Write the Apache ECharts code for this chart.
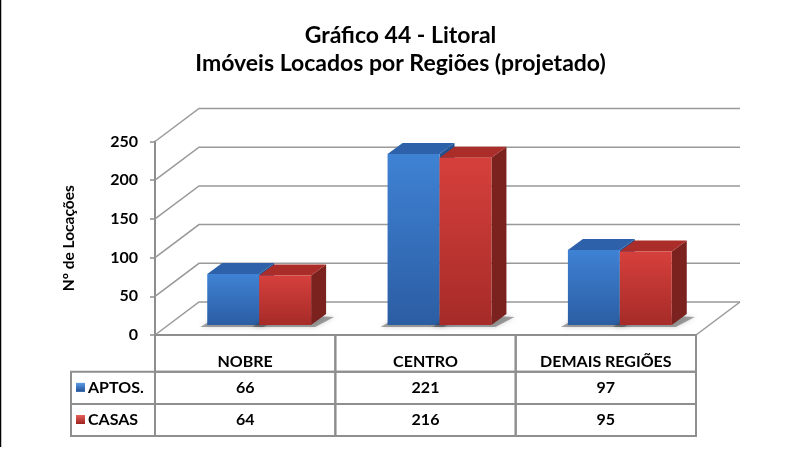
<!DOCTYPE html>
<html><head><meta charset="utf-8">
<script src="https://cdn.jsdelivr.net/npm/echarts@6/dist/echarts.min.js"></script>
<style>html,body{margin:0;padding:0;background:#fff}#c{width:801px;height:449px}</style>
</head><body><div id="c"></div>
<script>
// ---- data ----
const categories = ['NOBRE', 'CENTRO', 'DEMAIS REGIÕES'];
const seriesNames = ['APTOS.', 'CASAS'];
const aptos = [66, 221, 97];
const casas = [64, 216, 95];
const yTicks = [0, 50, 100, 150, 200, 250];
const titleLines = ['Gráfico 44 - Litoral', 'Imóveis Locados por Regiões (projetado)'];
const yName = 'Nº de Locações';

// ---- style constants ----
const FONT = 'Lato, "Open Sans", sans-serif';
const WALL = [44, -33];      // depth of the back wall
const PLANE = [14, -10];     // offset of the bar plane
const DEPTH = [15, -11];     // bar depth
const BARFRAC = 0.288;       // bar width / category width
const ROWS = [36.7, 32.3, 32];
const LEGCOL = 84;
const GRID = '#999999';
const TBL = '#8e8e8e';

const palettes = [
  { front: ['#3f82d4', '#2b5da3'], top: '#2d62ab', side: '#23508f', key: ['#5b9be6', '#1f4f95'] },
  { front: ['#d6403c', '#a62b28'], top: '#ab2d29', side: '#7b221f', key: ['#e8605a', '#9c2320'] }
];

const chart = echarts.init(document.getElementById('c'), null, { renderer: 'canvas' });

function wallItem(params, api) {
  const cs = params.coordSys;
  const v = api.value(1);
  const y = api.coord([0, v])[1];
  const x0 = cs.x, x1 = cs.x + cs.width;
  const style = { stroke: GRID, lineWidth: 1.5, fill: null };
  const children = [{
    type: 'polyline',
    shape: { points: [[x0, y], [x0 + WALL[0], y + WALL[1]], [x1 + WALL[0], y + WALL[1]]] },
    style
  }];
  if (v === 0) {
    children.push({ type: 'line', shape: { x1: x1, y1: y, x2: x1 + WALL[0], y2: y + WALL[1] }, style });
  }
  return { type: 'group', children };
}

function barItem(si) {
  return function (params, api) {
    const i = api.value(0), v = api.value(1);
    const base = api.coord([i, 0]);
    const top = api.coord([i, v]);
    const catW = api.size([1, 0])[0];
    const bw = catW * BARFRAC;
    const cx = base[0] + PLANE[0];
    const xL = si === 0 ? cx - bw : cx;
    const xR = xL + bw;
    const yB = base[1] + PLANE[1];
    const yT = top[1] + PLANE[1];
    const p = palettes[si];
    const dx = DEPTH[0], dy = DEPTH[1];
    return {
      type: 'group',
      children: [
        { type: 'polygon', z2: 0,
          shape: { points: [[xL - 7, yB + 2], [xR + 4, yB + 2], [xR + dx + 8, yB + dy + 3], [xL + dx, yB + dy]] },
          style: { fill: 'rgba(60,60,60,0.45)', shadowBlur: 5, shadowColor: 'rgba(0,0,0,0.4)' } },
        { type: 'polygon', z2: 1,
          shape: { points: [[xR, yT], [xR + dx, yT + dy], [xR + dx, yB + dy], [xR, yB]] },
          style: { fill: p.side } },
        { type: 'polygon', z2: 1,
          shape: { points: [[xL, yT], [xR, yT], [xR + dx, yT + dy], [xL + dx, yT + dy]] },
          style: { fill: p.top } },
        { type: 'rect', z2: 2,
          shape: { x: xL, y: yT, width: bw, height: yB - yT },
          style: { fill: new echarts.graphic.LinearGradient(0, 0, 0, 1, [
            { offset: 0, color: p.front[0] }, { offset: 1, color: p.front[1] }]) } }
      ]
    };
  };
}

function tableItem(params, api) {
  const cs = params.coordSys;
  const i = api.value(0);
  const c = api.coord([i, 0]);
  const catW = api.size([1, 0])[0];
  const xL = c[0] - catW / 2;
  const y0 = c[1];
  const vals = [api.value(1), api.value(2)];
  const ln = { stroke: TBL, lineWidth: 2, fill: null };
  const txt = { fill: '#000', font: 'bold 16px ' + FONT, align: 'center', verticalAlign: 'middle' };
  const children = [];
  let y = y0;
  const rowTops = [];
  for (let r = 0; r < ROWS.length; r++) { rowTops.push(y); y += ROWS[r]; }
  for (let r = 0; r < ROWS.length; r++) {
    children.push({ type: 'rect', shape: { x: xL, y: rowTops[r], width: catW, height: ROWS[r] }, style: ln });
  }
  children.push({ type: 'text', style: Object.assign({ text: categories[i], x: c[0], y: rowTops[0] + ROWS[0] * 0.72 }, txt) });
  for (let r = 0; r < 2; r++) {
    children.push({ type: 'text', style: Object.assign({ text: String(vals[r]), x: c[0], y: rowTops[r + 1] + ROWS[r + 1] / 2 }, txt) });
  }
  if (i === 0) {
    const lx = cs.x - LEGCOL;
    for (let r = 0; r < 2; r++) {
      const ty = rowTops[r + 1];
      children.push({ type: 'rect', shape: { x: lx, y: ty, width: LEGCOL, height: ROWS[r + 1] }, style: ln });
      const k = palettes[r].key;
      children.push({ type: 'rect', shape: { x: lx + 5, y: ty + ROWS[r + 1] / 2 - 5, width: 9, height: 9 },
        style: { fill: new echarts.graphic.LinearGradient(0, 0, 0, 1, [{ offset: 0, color: k[0] }, { offset: 1, color: k[1] }]) } });
      children.push({ type: 'text', style: { text: seriesNames[r], x: lx + 17, y: ty + ROWS[r + 1] / 2,
        fill: '#000', font: 'bold 16px ' + FONT, align: 'left', verticalAlign: 'middle' } });
    }
  }
  return { type: 'group', children };
}

chart.setOption({
  animation: false,
  backgroundColor: '#fff',
  title: {
    text: titleLines.join('\n'),
    left: 'center', top: 17,
    textStyle: { fontFamily: FONT, fontSize: 23, fontWeight: 'bold', color: '#000', lineHeight: 28 }
  },
  graphic: [{ type: 'line', shape: { x1: 0.5, y1: 0, x2: 0.5, y2: 447 }, style: { stroke: '#000', lineWidth: 1.5 } }],
  grid: { left: 155, top: 141.5, width: 541, height: 193.5, containLabel: false },
  xAxis: { type: 'category', data: categories, show: false, boundaryGap: true },
  yAxis: {
    type: 'value', min: 0, max: 250, interval: 50,
    name: yName, nameLocation: 'middle', nameGap: 78, nameRotate: 90,
    nameTextStyle: { fontFamily: FONT, fontSize: 15.5, fontWeight: 'bold', color: '#000' },
    axisLine: { show: true, lineStyle: { color: TBL, width: 2 } },
    axisTick: { show: true, length: 5, lineStyle: { color: TBL, width: 1.5 } },
    axisLabel: { fontFamily: FONT, fontSize: 16, fontWeight: 'bold', color: '#000', margin: 17 },
    splitLine: { show: false }
  },
  series: [
    { type: 'custom', name: 'walls', renderItem: wallItem, data: yTicks.map(v => [0, v]), z: 1, silent: true },
    { type: 'custom', name: seriesNames[0], renderItem: barItem(0), data: aptos.map((v, i) => [i, v]), z: 3 },
    { type: 'custom', name: seriesNames[1], renderItem: barItem(1), data: casas.map((v, i) => [i, v]), z: 4 },
    { type: 'custom', name: 'table', renderItem: tableItem, data: categories.map((c, i) => [i, aptos[i], casas[i]]), z: 5, silent: true }
  ]
});
</script>
</body></html>
